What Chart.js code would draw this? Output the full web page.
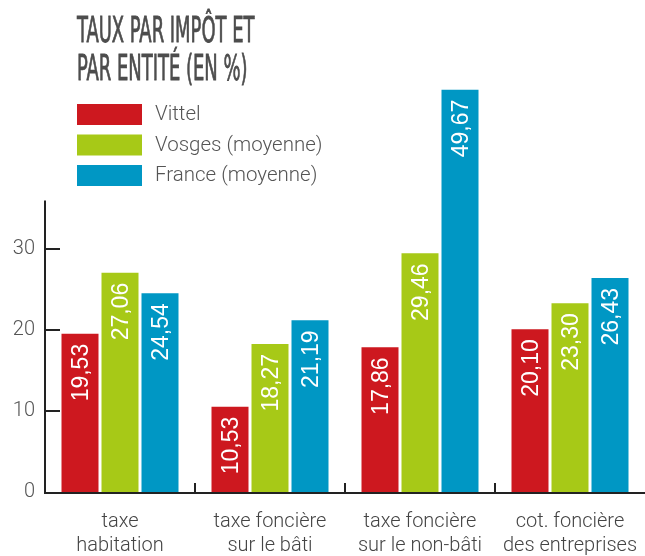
<!DOCTYPE html>
<html lang="fr">
<head>
<meta charset="utf-8">
<title>Taux par impôt et par entité</title>
<script src="https://cdn.jsdelivr.net/npm/chart.js@4.4.1/dist/chart.umd.min.js"></script>
<style>
  html, body { margin: 0; padding: 0; background: #fff; }
  #wrap { position: relative; width: 645px; height: 556px; overflow: hidden; }
  #title {
    position: absolute; left: 77px; top: 11px;
    font-family: "Liberation Sans Narrow", "DejaVu Sans Condensed", sans-serif;
    font-size: 35px; line-height: 38px; color: #4d4d4d;
    -webkit-text-stroke: 0.8px #4d4d4d;
    transform-origin: 0 0; transform: scaleX(0.57);
    white-space: nowrap;
  }
  canvas { position: absolute; left: 0; top: 0; }
</style>
</head>
<body>
<div id="wrap">
  <canvas id="chart" width="645" height="556"></canvas>
  <div id="title">TAUX PAR IMPÔT ET<br>PAR ENTITÉ (EN %)</div>
</div>
<script>
// data
const categories = [
  ['taxe', 'habitation'],
  ['taxe foncière', 'sur le bâti'],
  ['taxe foncière', 'sur le non-bâti'],
  ['cot. foncière', 'des entreprises']
];
const seriesNames = ['Vittel', 'Vosges (moyenne)', 'France (moyenne)'];
const vittel = [19.53, 10.53, 17.86, 20.10];
const vosges = [27.06, 18.27, 29.46, 23.30];
const france = [24.54, 21.19, 49.67, 26.43];
const yTickValues = [0, 10, 20, 30];

const colors = ['#cd181f', '#a7c917', '#0097c4'];
const axisTop = 36; // where the drawn y axis line stops

// legend, value labels and the thin hand-drawn axes
const decorations = {
  id: 'decorations',
  afterDatasetsDraw(chart) {
    const ctx = chart.ctx;
    const xs = chart.scales.x;
    const ys = chart.scales.y;
    const area = chart.chartArea;
    const y0 = ys.getPixelForValue(0);

    ctx.save();
    // value labels, rotated, white
    ctx.fillStyle = '#fff';
    ctx.font = '23px "Liberation Sans", Arial, sans-serif';
    ctx.textAlign = 'right';
    ctx.textBaseline = 'alphabetic';
    chart.data.datasets.forEach((ds, i) => {
      chart.getDatasetMeta(i).data.forEach((bar, j) => {
        const txt = ds.data[j].toFixed(2).replace('.', ',');
        ctx.save();
        ctx.translate(bar.x + 8, bar.y + 10);
        ctx.rotate(-Math.PI / 2);
        ctx.fillText(txt, 0, 0);
        ctx.restore();
      });
    });

    // axes
    ctx.strokeStyle = '#222';
    ctx.lineWidth = 2;
    ctx.beginPath();
    ctx.moveTo(area.left, ys.getPixelForValue(axisTop));
    ctx.lineTo(area.left, y0 + 1);
    ctx.lineTo(area.right, y0 + 1);
    ctx.stroke();
    yTickValues.forEach(v => {
      if (v === 0) return;
      const y = ys.getPixelForValue(v);
      ctx.beginPath();
      ctx.moveTo(area.left, y);
      ctx.lineTo(area.left + 15, y);
      ctx.stroke();
    });
    for (let i = 0; i < categories.length - 1; i++) {
      const x = Math.round((xs.getPixelForValue(i) + xs.getPixelForValue(i + 1)) / 2);
      ctx.beginPath();
      ctx.moveTo(x, y0);
      ctx.lineTo(x, y0 - 9);
      ctx.stroke();
    }

    // legend
    ctx.font = '300 20.5px Roboto, sans-serif';
    ctx.textAlign = 'left';
    ctx.textBaseline = 'middle';
    chart.data.datasets.forEach((ds, i) => {
      const top = 104 + i * 30.5;
      ctx.fillStyle = ds.backgroundColor;
      ctx.fillRect(77, top, 65, 21);
      ctx.fillStyle = '#555';
      ctx.fillText(ds.label, 155, top + 11);
    });
    ctx.restore();
  }
};

new Chart(document.getElementById('chart'), {
  type: 'bar',
  data: {
    labels: categories,
    datasets: [vittel, vosges, france].map((vals, i) => ({
      label: seriesNames[i],
      data: vals,
      backgroundColor: colors[i],
      borderWidth: 0,
      categoryPercentage: 0.8,
      barPercentage: 0.925
    }))
  },
  options: {
    responsive: false,
    animation: false,
    devicePixelRatio: 1,
    layout: { padding: { top: 87, right: 0, left: 0, bottom: 0 } },
    plugins: { legend: { display: false }, tooltip: { enabled: false } },
    scales: {
      x: {
        grid: { display: false },
        border: { display: false },
        afterFit: s => { s.height = 64; s.paddingLeft = 0; s.paddingRight = 0; },
        ticks: {
          color: '#444',
          padding: 10,
          font: { family: 'Roboto', weight: 300, size: 20, lineHeight: 1.2 },
          maxRotation: 0,
          autoSkip: false
        }
      },
      y: {
        min: 0,
        max: 50,
        grid: { display: false, drawTicks: false },
        border: { display: false },
        afterFit: s => { s.width = 45; s.paddingTop = 0; s.paddingBottom = 0; },
        afterBuildTicks: s => { s.ticks = yTickValues.map(v => ({ value: v })); },
        ticks: {
          color: '#555',
          padding: 10,
          font: { family: 'Roboto', weight: 300, size: 20 }
        }
      }
    }
  },
  plugins: [decorations]
});
</script>
</body>
</html>
